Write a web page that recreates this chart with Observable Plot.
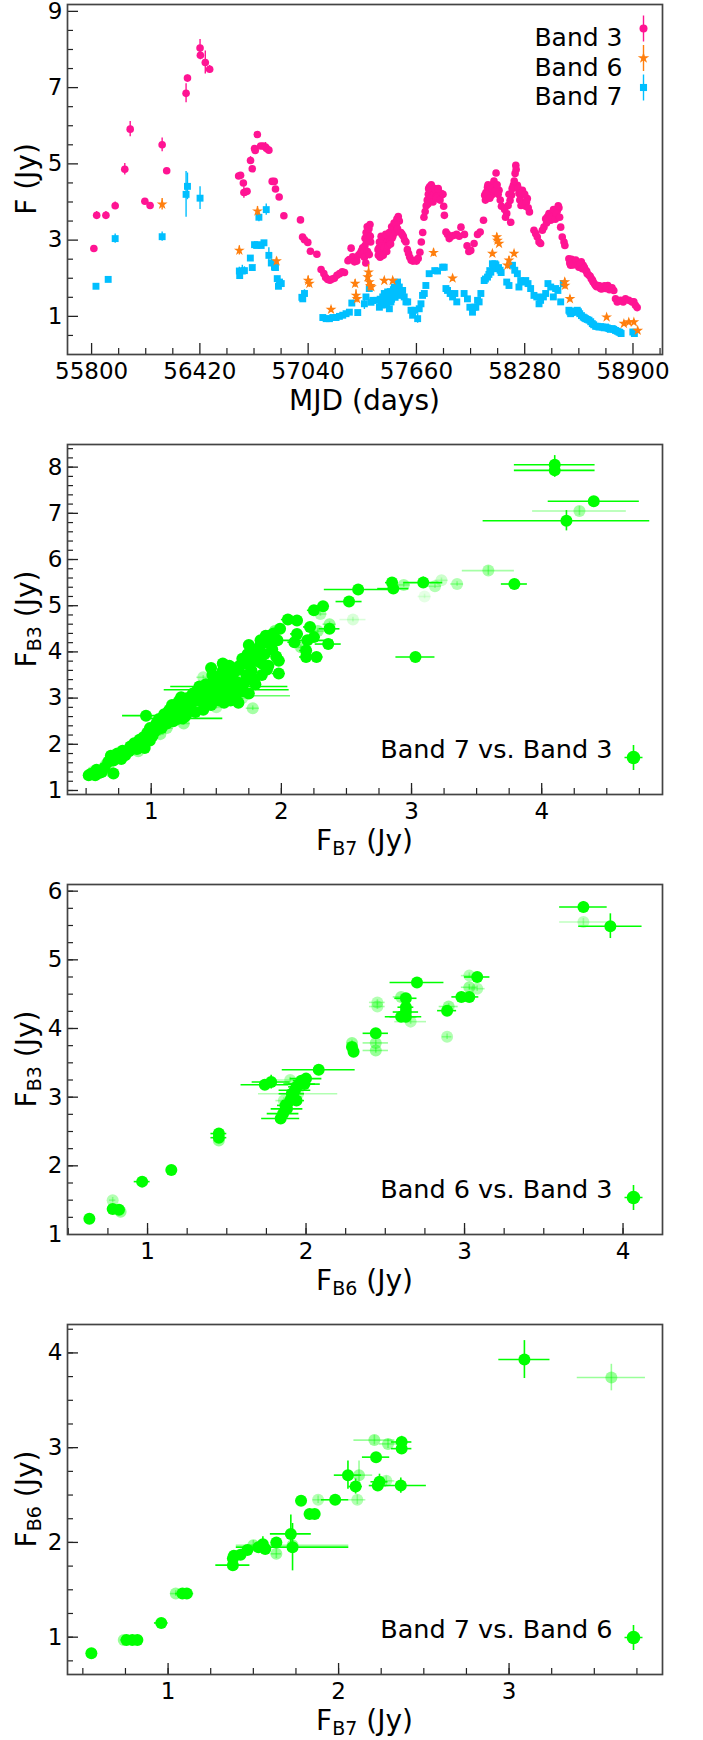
<!DOCTYPE html>
<html><head><meta charset="utf-8">
<script src="https://cdn.jsdelivr.net/npm/d3@7"></script>
<script src="https://cdn.jsdelivr.net/npm/@observablehq/plot@0.6"></script>
<style>
html,body{margin:0;padding:0;background:#fff;}
#chart svg{display:block;}
</style></head>
<body><div id="chart"></div>
<script>
// ---------- DATA ----------
// Light curves: [MJD, flux (Jy), error]
const band3 = [
[55813,2.78,0.06],[55829,3.65,0.1],[55882,3.65,0.1],[55935,3.90,0.1],[55990,4.86,0.15],[56021,5.91,0.2],[56105,4.02,0.06],[56135,3.91,0.08],[56204,5.50,0.18],[56230,4.82,0.06],[56341,6.85,0.25],[56349,7.25,0.08],[56421,8.04,0.22],[56423,7.85,0.12],[56451,7.66,0.3],[56476,7.48,0.1],
[56642,4.68,0.06],[56653,4.70,0.06],[56669,4.50,0.06],[56672,4.25,0.15],[56680,4.26,0.06],[56690,4.28,0.06],[56710,5.09,0.1],[56720,4.87,0.06],[56733,5.40,0.06],[56737,5.35,0.06],[56749,5.77,0.08],[56768,5.47,0.06],[56783,5.47,0.06],[56796,5.44,0.12],[56802,5.40,0.06],[56815,5.36,0.06],[56834,4.54,0.05],[56846,4.54,0.05],[56853,4.34,0.05],[56874,4.13,0.05],[56901,3.64,0.05],
[56996,3.53,0.05],[57008,3.08,0.05],[57019,3.01,0.05],[57038,2.94,0.05],[57053,2.71,0.05],[57090,2.63,0.05],[57114,2.23,0.05],[57130,2.12,0.05],[57140,2.02,0.05],[57152,1.97,0.05],[57165,1.95,0.05],[57178,1.98,0.05],[57190,2.00,0.05],[57205,2.08,0.05],[57220,2.12,0.05],[57235,2.17,0.05],[57248,2.15,0.05],[57268,2.46,0.05],[57276,2.49,0.05],[57286,2.79,0.05],[57295,2.56,0.05],[57305,2.43,0.05],[57318,2.45,0.05],[57328,2.60,0.05],[57337,2.65,0.08],[57345,2.72,0.05],[57352,2.80,0.05],[57360,2.70,0.05],[57366,3.05,0.1],[57372,3.20,0.12],[57378,3.35,0.08],[57383,3.18,0.05],[57388,3.30,0.05],[57394,3.41,0.05],[57398,2.95,0.05],
[57362,2.55,0.05],[57365,2.85,0.05],[57370,2.40,0.05],[57374,2.95,0.05],[57380,2.70,0.05],[57385,3.00,0.05],[57390,2.62,0.05],[57396,3.10,0.05],
[57440,2.75,0.05],[57446,2.80,0.05],[57451,2.70,0.05],[57456,2.90,0.05],[57462,2.60,0.05],[57468,2.75,0.05],[57474,3.05,0.05],[57480,2.85,0.05],[57488,2.95,0.05],[57495,3.10,0.05],[57502,2.90,0.05],[57508,3.00,0.05],[57514,3.15,0.05],[57520,3.05,0.05],[57528,3.25,0.05],[57534,3.30,0.05],[57540,3.45,0.05],[57548,3.55,0.05],[57556,3.62,0.05],[57562,3.50,0.05],
[57442,2.60,0.05],[57448,2.95,0.05],[57452,2.55,0.05],[57458,3.10,0.05],[57465,2.85,0.05],[57470,2.60,0.05],[57477,2.80,0.05],[57484,3.15,0.05],[57490,2.70,0.05],[57498,2.85,0.05],[57505,3.20,0.05],[57512,2.90,0.05],[57518,3.35,0.05],[57525,3.10,0.05],[57532,3.45,0.05],[57538,3.20,0.05],[57545,3.40,0.05],[57552,3.30,0.05],
[57571,3.20,0.05],[57578,3.15,0.05],[57585,3.10,0.05],[57592,3.00,0.05],[57600,2.95,0.05],[57608,2.75,0.05],[57615,2.65,0.05],[57622,2.55,0.05],[57630,2.47,0.05],[57640,2.45,0.05],[57650,2.47,0.05],[57660,2.45,0.05],[57670,2.52,0.05],[57680,2.68,0.05],[57688,2.95,0.05],[57696,3.20,0.05],[57703,3.60,0.05],[57710,3.75,0.05],[57716,3.90,0.05],[57722,4.05,0.05],[57728,4.20,0.05],[57735,4.40,0.05],[57742,4.30,0.05],[57750,4.15,0.05],[57760,4.25,0.05],[57772,4.30,0.05],[57782,4.20,0.05],[57792,4.25,0.05],[57802,4.18,0.05],[57812,4.20,0.1],[57816,3.89,0.05],[57820,3.65,0.05],
[57726,3.95,0.05],[57730,4.35,0.05],[57738,4.10,0.05],[57745,4.45,0.05],[57755,4.00,0.05],[57765,4.35,0.05],[57775,4.10,0.05],[57785,4.35,0.05],[57795,4.05,0.05],
[57829,3.21,0.05],[57838,3.15,0.05],[57848,3.04,0.05],[57860,3.10,0.05],[57872,3.12,0.05],[57890,3.15,0.05],[57905,3.10,0.05],[57915,3.34,0.05],[57935,3.15,0.05],[57950,2.85,0.05],[57960,2.70,0.05],
[57971,2.73,0.05],[57990,2.91,0.05],[58010,3.15,0.05],[58025,3.21,0.05],[58044,3.52,0.05],[58051,4.18,0.05],[58058,4.25,0.05],[58067,4.39,0.05],[58076,4.26,0.05],[58090,4.18,0.05],[58101,4.48,0.05],[58108,4.40,0.05],[58116,4.76,0.05],[58118,4.39,0.05],[58133,4.31,0.05],[58147,3.89,0.05],[58177,3.70,0.05],[58185,3.91,0.05],[58196,4.04,0.05],[58200,3.47,0.05],[58204,4.18,0.05],[58215,4.44,0.05],[58229,4.96,0.05],[58231,4.85,0.05],[58238,4.44,0.05],[58247,4.22,0.05],[58257,4.18,0.05],[58259,3.91,0.05],[58267,4.31,0.05],[58276,4.00,0.05],[58286,3.89,0.05],[58295,4.09,0.05],[58307,3.74,0.05],
[58055,4.05,0.05],[58062,4.20,0.05],[58070,4.45,0.05],[58080,4.10,0.05],[58085,4.40,0.05],[58095,4.35,0.05],[58104,4.55,0.05],[58112,4.30,0.05],[58122,4.45,0.05],[58128,4.20,0.05],[58140,4.05,0.05],[58165,3.80,0.05],[58170,3.60,0.05],[58190,4.20,0.05],[58208,4.35,0.05],[58220,4.55,0.05],[58225,4.75,0.05],[58243,4.35,0.05],[58252,4.05,0.05],[58262,4.25,0.05],[58270,3.95,0.05],[58280,4.20,0.05],[58290,4.00,0.05],[58300,3.85,0.05],
[58333,3.26,0.05],[58343,3.17,0.05],[58352,3.08,0.05],[58362,2.95,0.05],[58371,2.91,0.05],[58381,3.26,0.05],[58390,3.34,0.05],[58400,3.56,0.05],[58410,3.61,0.05],[58419,3.70,0.05],[58429,3.52,0.05],[58438,3.70,0.05],[58448,3.74,0.05],[58457,3.65,0.05],[58467,3.78,0.05],[58476,3.85,0.05],[58486,3.34,0.05],[58495,3.08,0.05],[58505,2.95,0.05],[58510,2.86,0.05],
[58405,3.45,0.05],[58415,3.55,0.05],[58425,3.65,0.05],[58435,3.60,0.05],[58445,3.80,0.05],[58455,3.55,0.05],[58462,3.70,0.05],[58472,3.90,0.05],[58480,3.60,0.05],
[58533,2.51,0.05],[58543,2.34,0.05],[58552,2.43,0.05],[58566,2.38,0.05],[58577,2.43,0.05],[58590,2.29,0.05],[58604,2.43,0.05],[58615,2.34,0.05],[58629,2.21,0.05],[58638,2.12,0.05],[58648,2.08,0.05],[58661,1.99,0.05],[58672,1.90,0.05],[58686,1.81,0.05],[58699,1.81,0.05],[58714,1.73,0.05],[58730,1.77,0.05],[58743,1.73,0.05],[58756,1.81,0.05],[58771,1.73,0.05],[58790,1.68,0.05],
[58538,2.40,0.05],[58548,2.50,0.05],[58558,2.35,0.05],[58572,2.48,0.05],[58585,2.35,0.05],[58598,2.38,0.05],[58610,2.25,0.05],[58622,2.28,0.05],[58635,2.18,0.05],[58655,2.05,0.05],[58668,1.95,0.05],[58680,1.85,0.05],[58692,1.78,0.05],[58708,1.80,0.05],[58720,1.72,0.05],[58737,1.80,0.05],[58750,1.75,0.05],[58765,1.70,0.05],[58780,1.75,0.05],
[58800,1.46,0.05],[58810,1.38,0.05],[58829,1.42,0.05],[58844,1.38,0.05],[58857,1.46,0.05],[58876,1.42,0.05],[58895,1.38,0.05],[58905,1.38,0.05],[58914,1.29,0.05],[58924,1.23,0.05]
];
const band6 = [
[56204,3.94,0.15],[56646,2.73,0.12],[56750,3.76,0.12],[56859,2.45,0.1],[57040,1.94,0.12],[57047,1.86,0.1],[57171,1.18,0.08],[57309,1.86,0.1],[57314,1.55,0.15],[57320,1.46,0.1],[57381,2.03,0.15],[57386,2.16,0.2],[57390,1.90,0.15],[57396,1.80,0.1],[57402,1.77,0.1],[57476,1.94,0.08],[57524,1.94,0.08],[57758,2.67,0.1],[57867,2.00,0.08],[58095,2.65,0.08],[58120,3.08,0.1],[58124,2.99,0.08],[58133,2.91,0.08],[58181,2.34,0.1],[58190,2.47,0.1],[58219,2.65,0.08],[58509,1.90,0.1],[58511,1.81,0.1],[58539,1.46,0.08],[58749,0.98,0.06],[58848,0.81,0.06],[58876,0.85,0.06],[58905,0.85,0.06],[58927,0.63,0.06]
];
const band7 = [
[55825,1.79,0.06],[55895,1.97,0.06],[55935,3.04,0.12],[56204,3.09,0.12],[56341,4.20,0.6],[56349,4.41,0.35],[56421,4.10,0.3],
[56646,2.19,0.1],[56648,2.07,0.06],[56663,2.19,0.15],[56675,2.20,0.1],[56709,2.53,0.06],[56720,2.28,0.06],[56733,2.88,0.08],[56745,2.86,0.06],[56756,2.88,0.06],[56758,3.60,0.12],[56771,2.86,0.06],[56787,2.93,0.06],[56800,3.80,0.15],[56815,2.60,0.2],[56829,2.40,0.1],[56847,2.29,0.06],[56853,2.28,0.06],[56863,1.99,0.06],[56870,1.79,0.06],[56876,1.90,0.06],[56886,1.86,0.06],
[57004,1.50,0.06],[57009,1.46,0.06],[57019,1.60,0.1],[57124,0.97,0.05],[57143,0.94,0.05],[57162,0.94,0.05],[57181,0.97,0.05],[57200,0.97,0.05],[57219,1.00,0.05],[57238,1.03,0.05],[57257,1.07,0.05],[57276,1.11,0.05],[57290,1.35,0.05],[57324,1.10,0.05],[57362,1.33,0.15],[57371,1.51,0.05],[57390,1.73,0.05],[57400,1.37,0.05],[57410,1.42,0.05],[57433,1.42,0.05],[57448,1.24,0.05],[57467,1.51,0.05],[57476,1.60,0.05],[57486,1.42,0.05],[57495,1.64,0.05],[57505,1.20,0.05],[57514,1.38,0.05],[57524,1.60,0.05],[57533,1.77,0.05],[57543,1.60,0.05],[57552,1.90,0.05],[57562,1.77,0.05],[57571,1.60,0.05],[57581,1.68,0.05],[57590,1.51,0.05],[57600,1.38,0.05],[57610,1.38,0.05],
[57452,1.45,0.05],[57458,1.30,0.05],[57472,1.40,0.05],[57480,1.55,0.05],[57490,1.30,0.05],[57500,1.50,0.05],[57510,1.65,0.05],[57518,1.45,0.05],[57528,1.70,0.05],[57538,1.50,0.05],[57548,1.75,0.05],[57557,1.65,0.05],[57566,1.55,0.05],
[57629,1.16,0.05],[57638,1.03,0.05],[57651,1.16,0.05],[57667,0.94,0.12],[57676,1.20,0.05],[57686,1.33,0.05],[57695,1.55,0.05],[57705,1.60,0.05],[57714,1.81,0.05],[57733,2.12,0.05],[57765,2.20,0.05],[57781,2.19,0.05],[57810,2.29,0.05],[57819,2.29,0.05],[57829,1.73,0.05],[57838,1.68,0.05],[57853,1.60,0.05],[57867,1.51,0.05],[57880,1.60,0.05],[57891,1.38,0.05],[57933,1.60,0.05],[57952,1.46,0.05],[57966,1.24,0.05],[57981,1.11,0.05],[57990,1.24,0.05],[58000,1.24,0.05],[58010,1.42,0.05],[58019,1.38,0.05],[58029,1.60,0.05],[58048,1.94,0.05],[58067,2.03,0.05],[58086,2.16,0.05],[58095,2.38,0.05],[58109,2.38,0.05],[58124,2.25,0.05],[58139,2.21,0.05],
[58055,1.98,0.05],[58075,2.10,0.05],[58080,2.20,0.05],[58100,2.30,0.05],[58115,2.35,0.05],[58130,2.28,0.05],[58145,2.15,0.05],
[58177,1.90,0.05],[58190,1.81,0.05],[58210,2.34,0.05],[58223,2.21,0.05],[58238,2.12,0.05],[58247,1.77,0.05],[58257,1.94,0.05],[58272,1.90,0.05],[58286,1.94,0.05],[58299,1.86,0.05],[58314,1.73,0.05],[58333,1.55,0.05],[58349,1.51,0.05],[58362,1.33,0.05],[58371,1.42,0.05],[58387,1.51,0.05],[58400,1.60,0.05],[58413,1.86,0.05],[58429,1.77,0.05],[58444,1.51,0.05],[58457,1.73,0.05],[58470,1.68,0.05],[58486,1.38,0.05],[58501,1.86,0.05],[58533,1.16,0.05],[58543,1.07,0.05],[58562,1.11,0.05],[58581,1.16,0.05],[58595,1.07,0.05],[58615,0.98,0.05],[58629,0.94,0.05],[58648,0.90,0.05],[58667,0.81,0.05],[58686,0.74,0.05],[58705,0.72,0.05],[58724,0.72,0.05],[58743,0.72,0.05],[58762,0.68,0.05],[58781,0.68,0.05],[58800,0.63,0.05],[58819,0.59,0.05],[58832,0.55,0.05],[58899,0.59,0.05],[58908,0.55,0.05],
[58538,1.12,0.05],[58550,1.10,0.05],[58570,1.14,0.05],[58588,1.12,0.05],[58605,1.02,0.05],[58622,0.96,0.05],[58638,0.92,0.05],[58658,0.86,0.05],[58675,0.78,0.05],[58695,0.74,0.05],[58715,0.73,0.05],[58735,0.70,0.05],[58752,0.70,0.05],[58770,0.66,0.05],[58790,0.66,0.05],[58810,0.61,0.05],[58825,0.58,0.05]
];
// Flux-flux pairs: [x flux, y flux, x error, y error, opacity]
const b7vsb3 = [
[4.10,8.05,0.31,0.2,1],[4.10,7.93,0.31,0.15,1],[4.40,7.26,0.35,0.1,1],[4.29,7.05,0.36,0.1,0.35],[4.19,6.84,0.64,0.22,1],
[3.59,5.76,0.2,0.1,0.35],[3.79,5.47,0.1,0.06,1],[3.35,5.47,0.05,0.05,0.3],[3.23,5.55,0.05,0.05,0.2],[3.18,5.42,0.05,0.05,0.3],[3.09,5.50,0.15,0.12,1],[2.94,5.45,0.05,0.05,0.35],[2.85,5.50,0.05,0.05,1],[2.86,5.37,0.12,0.05,1],[2.59,5.35,0.26,0.05,1],[2.52,5.09,0.1,0.05,1],[3.03,3.89,0.15,0.05,1],[2.55,4.70,0.1,0.05,0.15],[3.10,5.20,0.05,0.05,0.1],
[2.32,4.99,0.05,0.05,1],[2.25,4.90,0.05,0.05,1],[2.30,4.82,0.05,0.05,0.3],[2.37,4.60,0.05,0.05,0.4],[2.37,4.50,0.08,0.05,1],[2.05,4.70,0.05,0.05,1],[2.12,4.68,0.05,0.05,1],[2.22,4.54,0.05,0.05,1],[2.12,4.39,0.05,0.05,1],[2.25,4.32,0.05,0.05,1],[2.36,4.17,0.1,0.05,1],[2.10,4.21,0.05,0.05,1],[2.19,4.03,0.05,0.05,1],[2.27,3.89,0.05,0.05,1],[2.19,3.89,0.05,0.05,1],[2.15,4.10,0.05,0.05,0.4],[2.20,4.25,0.2,0.05,1],[2.28,4.45,0.05,0.05,0.4],[1.98,3.53,0.05,0.05,1],[1.98,3.81,0.05,0.05,1],
[0.54,1.36,0.02,0.04,1],[0.57,1.33,0.02,0.04,1],[0.60,1.38,0.02,0.04,1],[0.64,1.49,0.02,0.04,1],[0.68,1.42,0.02,0.04,0.4],[0.71,1.37,0.02,0.04,1],[0.73,1.72,0.02,0.04,1],[0.75,1.78,0.02,0.04,1],[0.77,1.68,0.02,0.04,1],[0.80,1.76,0.02,0.04,1],[0.83,1.85,0.02,0.04,1],[0.86,1.92,0.02,0.04,1],[0.88,1.98,0.02,0.04,1],[0.92,2.02,0.02,0.04,1],[0.95,1.92,0.02,0.04,1],[0.96,2.62,0.18,0.05,1],[0.99,2.08,0.02,0.04,1],[1.01,2.18,0.03,0.04,1],[1.03,2.28,0.03,0.04,1],[1.05,2.40,0.03,0.04,1],[1.07,2.22,0.03,0.04,0.4],[1.09,2.48,0.03,0.04,1],[1.11,2.58,0.03,0.04,1],[1.13,2.70,0.03,0.04,1],[1.15,2.62,0.03,0.04,1],[1.17,2.50,0.03,0.04,1],[1.19,2.78,0.03,0.04,1],[1.21,2.92,0.03,0.04,1],[1.23,3.02,0.03,0.04,1],[1.25,2.80,0.03,0.04,1],[1.27,2.65,0.03,0.04,1],[1.24,2.56,0.31,0.04,1],[1.31,2.90,0.03,0.04,1],[1.33,3.05,0.03,0.04,1],[1.35,3.15,0.03,0.04,1],[1.37,3.25,0.03,0.04,1],[1.39,2.95,0.03,0.04,1],[1.41,2.82,0.03,0.04,1],[1.43,3.08,0.03,0.04,1],[1.45,3.20,0.03,0.04,1],[1.46,3.65,0.03,0.04,1],[1.48,3.35,0.03,0.04,1],[1.50,3.10,0.03,0.04,1],[1.52,2.95,0.03,0.04,1],[1.54,3.30,0.03,0.04,1],[1.55,3.75,0.03,0.04,1],[1.57,3.45,0.03,0.04,1],[1.59,3.00,0.03,0.04,1],[1.60,3.55,0.03,0.04,1],[1.62,3.20,0.03,0.04,1],[1.63,3.65,0.03,0.04,1],[1.65,3.05,0.03,0.04,1],[1.66,3.35,0.03,0.04,1],[1.68,3.70,0.03,0.04,1],[1.70,3.85,0.03,0.04,1],[1.71,3.15,0.03,0.04,1],[1.73,3.50,0.03,0.04,1],[1.75,4.15,0.03,0.04,1],[1.76,3.80,0.03,0.04,1],[1.78,2.78,0.05,0.05,0.35],[1.79,3.40,0.03,0.04,1],[1.81,3.95,0.03,0.04,1],[1.83,4.10,0.03,0.04,1],[1.85,3.75,0.03,0.04,1],[1.87,4.20,0.03,0.04,1],[1.89,3.62,0.03,0.04,1],[1.91,4.35,0.03,0.04,1],[1.93,4.05,0.03,0.04,1],[1.95,4.45,0.03,0.04,0.5],[1.60,3.25,0.45,0.04,1],[1.58,3.18,0.48,0.04,1],[1.65,3.05,0.42,0.04,0.6],[1.50,2.80,0.05,0.04,0.3],[1.70,3.00,0.05,0.04,0.3],[1.40,3.45,0.05,0.04,0.3],[1.80,4.05,0.05,0.04,0.4],[1.25,2.45,0.05,0.04,0.4],[1.12,2.35,0.05,0.04,0.4],[0.90,1.85,0.05,0.04,0.4],[1.45,2.90,0.2,0.04,1],
[0.52,1.33,0.02,0.04,1],[0.55,1.40,0.02,0.04,0.4],[0.58,1.45,0.02,0.04,1],[0.62,1.40,0.02,0.04,1],[0.65,1.55,0.02,0.04,0.4],[0.67,1.62,0.02,0.04,1],[0.69,1.75,0.02,0.04,1],[0.71,1.65,0.02,0.04,1],[0.74,1.80,0.02,0.04,1],[0.76,1.74,0.02,0.04,1],[0.78,1.86,0.02,0.04,1],[0.81,1.82,0.02,0.04,1],[0.84,1.95,0.02,0.04,1],[0.87,2.02,0.02,0.04,1],[0.89,1.90,0.02,0.04,1],[0.91,2.10,0.02,0.04,1],[0.94,2.15,0.02,0.04,1],[0.97,2.25,0.02,0.04,1],[0.99,2.35,0.02,0.04,1],[1.02,2.30,0.03,0.04,1],[1.04,2.45,0.03,0.04,1],[1.06,2.55,0.03,0.04,1],[1.08,2.35,0.03,0.04,1],[1.10,2.65,0.03,0.04,1],[1.12,2.45,0.03,0.04,1],[1.14,2.75,0.03,0.04,1],[1.16,2.85,0.03,0.04,1],[1.18,2.68,0.03,0.04,1],[1.20,2.55,0.03,0.04,1],[1.22,2.95,0.03,0.04,1],[1.24,2.75,0.03,0.04,1],[1.26,2.60,0.03,0.04,1],[1.28,3.00,0.03,0.04,1],[1.30,2.80,0.03,0.04,1],[1.32,3.10,0.03,0.04,1],[1.34,2.70,0.03,0.04,1],[1.36,2.95,0.03,0.04,1],[1.38,3.15,0.03,0.04,1],[1.40,2.75,0.03,0.04,1],[1.42,3.30,0.03,0.04,1],[1.44,3.00,0.03,0.04,1],[1.46,2.85,0.03,0.04,1],[1.47,3.50,0.03,0.04,1],[1.49,3.20,0.03,0.04,1],[1.51,3.45,0.03,0.04,1],[1.53,3.05,0.03,0.04,1],[1.55,3.60,0.03,0.04,1],[1.56,2.90,0.03,0.04,1],[1.58,3.25,0.03,0.04,1],[1.60,3.70,0.03,0.04,1],[1.61,2.95,0.03,0.04,1],[1.63,3.40,0.03,0.04,1],[1.64,3.15,0.03,0.04,1],[1.66,3.60,0.03,0.04,1],[1.67,2.90,0.03,0.04,1],[1.69,3.25,0.03,0.04,1],[1.71,3.75,0.03,0.04,1],[1.72,3.35,0.03,0.04,1],[1.74,3.95,0.03,0.04,1],[1.75,3.10,0.03,0.04,1],[1.77,3.60,0.03,0.04,1],[1.78,4.00,0.03,0.04,1],[1.80,3.30,0.03,0.04,1],[1.82,3.80,0.03,0.04,1],[1.84,4.25,0.03,0.04,1],[1.85,3.50,0.03,0.04,1],[1.87,3.95,0.03,0.04,1],[1.88,4.35,0.03,0.04,1],[1.90,3.70,0.03,0.04,1],[1.92,4.15,0.03,0.04,1],[1.94,4.40,0.03,0.04,1],[1.96,3.90,0.03,0.04,1],[1.97,4.25,0.03,0.04,1],[1.99,4.50,0.03,0.04,1]
];
const b6vsb3 = [
[0.633,1.23,0.02,0.04,1],[0.78,1.37,0.02,0.04,1],[0.82,1.36,0.02,0.04,1],[0.83,1.33,0.02,0.04,0.4],[0.78,1.50,0.02,0.04,0.3],[0.966,1.77,0.05,0.04,1],[1.15,1.94,0.02,0.04,1],[1.45,2.47,0.05,0.04,1],[1.45,2.41,0.05,0.04,1],[1.45,2.37,0.03,0.04,0.4],[1.84,2.69,0.12,0.04,1],[1.855,2.76,0.1,0.04,1],[1.88,2.83,0.1,0.04,1],[1.87,2.88,0.05,0.04,1],[1.90,2.95,0.05,0.04,1],[1.91,3.05,0.08,0.04,1],[1.93,3.10,0.1,0.04,1],[1.94,3.15,0.05,0.04,1],[1.96,3.19,0.1,0.04,1],[1.97,3.24,0.05,0.04,1],[2.00,3.27,0.1,0.04,1],[1.99,3.19,0.1,0.04,1],[1.94,2.95,0.05,0.04,1],[1.86,2.95,0.05,0.04,0.3],[1.90,3.25,0.12,0.04,0.3],[1.95,3.05,0.25,0.04,0.3],[1.74,3.18,0.15,0.04,1],[1.78,3.22,0.12,0.1,1],[2.08,3.40,0.23,0.04,1],[2.29,3.73,0.03,0.04,1],[2.30,3.66,0.03,0.04,1],[2.29,3.79,0.03,0.04,0.4],[2.44,3.93,0.08,0.04,1],[2.44,3.79,0.08,0.04,0.4],[2.44,3.68,0.08,0.04,0.4],[2.45,4.38,0.05,0.04,0.3],[2.45,4.32,0.05,0.04,0.3],[2.60,4.17,0.1,0.04,1],[2.63,4.24,0.08,0.04,1],[2.63,4.31,0.05,0.04,1],[2.63,4.44,0.07,0.04,1],[2.60,4.46,0.05,0.04,0.4],[2.70,4.67,0.17,0.04,1],[2.63,4.17,0.1,0.04,1],[2.66,4.10,0.1,0.04,0.3],[2.89,4.26,0.06,0.04,1],[2.90,4.32,0.06,0.04,0.4],[2.89,3.88,0.03,0.04,0.3],[2.98,4.46,0.06,0.04,1],[3.03,4.46,0.06,0.04,1],[3.03,4.60,0.05,0.04,0.4],[3.08,4.75,0.08,0.04,1],[3.03,4.77,0.05,0.04,0.3],[3.08,4.58,0.05,0.04,0.3],[3.75,5.77,0.15,0.08,1],[3.75,5.55,0.15,0.05,0.25],[3.92,5.49,0.2,0.18,1]
];
const b7vsb6 = [
[0.55,0.83,0.02,0.03,1],[0.756,0.97,0.03,0.03,1],[0.79,0.97,0.03,0.03,1],[0.82,0.97,0.03,0.03,1],[0.74,0.97,0.02,0.03,0.4],[0.96,1.15,0.04,0.03,1],[1.045,1.46,0.03,0.03,0.4],[1.084,1.46,0.04,0.03,1],[1.11,1.46,0.04,0.03,1],[1.38,1.76,0.1,0.04,1],[1.386,1.86,0.03,0.04,1],[1.38,1.83,0.03,0.04,1],[1.425,1.87,0.03,0.04,1],[1.465,1.92,0.03,0.04,1],[1.50,1.97,0.03,0.05,0.4],[1.53,1.95,0.03,0.05,1],[1.556,1.98,0.03,0.08,1],[1.57,1.93,0.03,0.05,1],[1.635,2.0,0.03,0.05,1],[1.635,1.88,0.03,0.05,0.4],[1.72,2.09,0.12,0.2,1],[1.73,1.95,0.33,0.25,1],[1.73,1.97,0.33,0.05,0.4],[1.78,2.44,0.03,0.05,1],[1.83,2.30,0.03,0.04,1],[1.86,2.30,0.03,0.04,1],[1.88,2.45,0.03,0.04,0.3],[1.98,2.45,0.08,0.04,1],[2.055,2.71,0.08,0.15,1],[2.12,2.71,0.08,0.15,0.4],[2.10,2.59,0.04,0.08,1],[2.11,2.45,0.05,0.05,0.3],[2.21,3.08,0.12,0.05,0.4],[2.22,2.90,0.08,0.04,1],[2.24,2.64,0.05,0.08,1],[2.23,2.60,0.05,0.04,1],[2.29,3.04,0.05,0.05,0.4],[2.37,3.06,0.06,0.06,1],[2.37,2.99,0.06,0.06,1],[2.365,2.60,0.15,0.08,1],[2.28,2.65,0.05,0.05,0.3],[3.09,3.93,0.15,0.2,1],[3.6,3.74,0.2,0.14,0.4]
];
// Tick values
const mjdMajor = [55800,56420,57040,57660,58280,58900];
const mjdMinor = [55955,56110,56265,56575,56730,56885,57195,57350,57505,57815,57970,58125,58435,58590,58745,59055];
const fluxMajor1 = [1,3,5,7,9];
const fluxMinor1 = [0.5,1.5,2,2.5,3.5,4,4.5,5.5,6,6.5,7.5,8,8.5];
const legendLabels = ["Band 3","Band 6","Band 7"];
const scatterLabels = ["Band 7 vs. Band 3","Band 6 vs. Band 3","Band 7 vs. Band 6"];

// ---------- STYLE ----------
const C3 = "#ff1493", C6 = "#ff7f0e", C7 = "#00bfff", CG = "#00ff00";
const W = 703, ML = 67, MR = 41;
const FONT = "DejaVu Sans";
const vbar = {draw(ctx, size){ const h = Math.sqrt(size/Math.PI); ctx.moveTo(0,-h); ctx.lineTo(0,h); }};
const cross = {draw(ctx, size){ const h = Math.sqrt(size/Math.PI), w = 0.72 * h; ctx.moveTo(0,-h); ctx.lineTo(0,h); ctx.moveTo(-w,0); ctx.lineTo(w,0); }};
const range = (a,b,s) => { const out=[]; for (let i=0; a+i*s<=b+1e-9; i++) out.push(+(a+i*s).toFixed(4)); return out; };

function panel({height, mt, mb, xDomain, yDomain, xMajor, xMinor, yMajor, yMinor, marks}) {
  const fw = W - ML - MR, fh = height - mt - mb;
  const inX = v => v > xDomain[0] && v < xDomain[1];
  const inY = v => v > yDomain[0] && v < yDomain[1];
  return Plot.plot({
    width: W, height, marginLeft: ML, marginRight: MR, marginTop: mt, marginBottom: mb,
    x: {domain: xDomain}, y: {domain: yDomain},
    style: {fontFamily: FONT, background: "white", color: "black", overflow: "visible"},
    marks: [
      ...marks,
      Plot.ruleX(xMinor.filter(inX), {x: d => d, insetTop: fh - 6, stroke: "#222", strokeWidth: 1.2}),
      Plot.ruleX(xMajor.filter(inX), {x: d => d, insetTop: fh - 11, stroke: "#222", strokeWidth: 1.3}),
      Plot.ruleY(yMinor.filter(inY), {y: d => d, insetRight: fw - 6, stroke: "#222", strokeWidth: 1.2}),
      Plot.ruleY(yMajor.filter(inY), {y: d => d, insetRight: fw - 11, stroke: "#222", strokeWidth: 1.3}),
      Plot.axisX({ticks: xMajor, tickSize: 0, tickPadding: 8, fontSize: 23, tickFormat: d => String(d), label: null}),
      Plot.axisY({ticks: yMajor, tickSize: 0, tickPadding: 5, fontSize: 23, tickFormat: d => String(d), label: null}),
      Plot.frame({stroke: "#444", strokeWidth: 1.7})
    ]
  });
}

function addLabel(svg, x, y, rotate, main, sub, rest) {
  const t = d3.select(svg).append("text")
    .attr("font-family", FONT).attr("font-size", 28).attr("fill", "black")
    .attr("text-anchor", "middle")
    .attr("transform", `translate(${x},${y})` + (rotate ? " rotate(-90)" : ""));
  t.append("tspan").text(main);
  if (sub) {
    t.append("tspan").attr("font-size", 19).attr("dy", 5).text(sub);
    t.append("tspan").attr("dy", -5).text(rest);
  }
  return t;
}

function errMarks(data, color) {
  return [
    Plot.ruleY(data, {y: d => d[1], x1: d => d[0] - d[2], x2: d => d[0] + d[2], stroke: color, strokeWidth: 1.6, strokeOpacity: d => d[4]}),
    Plot.ruleX(data, {x: d => d[0], y1: d => d[1] - d[3], y2: d => d[1] + d[3], stroke: color, strokeWidth: 1.6, strokeOpacity: d => d[4]}),
    Plot.dot(data, {x: d => d[0], y: d => d[1], r: 6, fill: color, fillOpacity: d => d[4], stroke: "none"})
  ];
}

function scatterLegend(label) {
  return [
    Plot.text([label], {frameAnchor: "bottom-right", dx: -50, dy: -37, textAnchor: "end", fontSize: 25.5, fill: "black", fontFamily: FONT}),
    Plot.dot([0], {frameAnchor: "bottom-right", dx: -29, dy: -37, symbol: cross, r: 12.5, stroke: CG, strokeWidth: 1.6, fill: "none"}),
    Plot.dot([0], {frameAnchor: "bottom-right", dx: -29, dy: -37, r: 6.8, fill: CG, stroke: "none"})
  ];
}

const root = document.getElementById("chart");

// ---------- PANEL 1: light curves ----------
const lc = (data, color, symbol, r) => [
  Plot.ruleX(data, {x: d => d[0], y1: d => d[1] - d[2], y2: d => d[1] + d[2], stroke: color, strokeWidth: 1.4}),
  Plot.dot(data, {x: d => d[0], y: d => d[1], symbol, r, fill: color, stroke: "none"})
];
const legendSpec = [[C3, "circle", 4.0], [C6, "star", 3.6], [C7, "square", 4.0]];
const legend1 = legendLabels.flatMap((lab, i) => [
  Plot.text([lab], {frameAnchor: "top-right", dx: -40, dy: 24 + 29.5 * i, textAnchor: "end", fontSize: 25, fill: "black", fontFamily: FONT}),
  Plot.dot([0], {frameAnchor: "top-right", dx: -19, dy: 24 + 29.5 * i, symbol: vbar, r: 13, stroke: legendSpec[i][0], strokeWidth: 1.4, fill: "none"}),
  Plot.dot([0], {frameAnchor: "top-right", dx: -19, dy: 24 + 29.5 * i, symbol: legendSpec[i][1], r: legendSpec[i][2], fill: legendSpec[i][0], stroke: "none"})
]);
const p1 = panel({
  height: 420, mt: 4, mb: 66,
  xDomain: [55662, 59069], yDomain: [0, 9.18],
  xMajor: mjdMajor, xMinor: mjdMinor, yMajor: fluxMajor1, yMinor: fluxMinor1,
  marks: [...lc(band3, C3, "circle", 3.8), ...lc(band7, C7, "square", 3.9), ...lc(band6, C6, "star", 3.4), ...legend1]
});
addLabel(p1, 364.5, 410, false, "MJD (days)");
addLabel(p1, 36, 179, true, "F (Jy)");
root.appendChild(p1);

// ---------- PANEL 2 ----------
const p2 = panel({
  height: 440, mt: 24, mb: 66,
  xDomain: [0.357, 4.928], yDomain: [0.913, 8.49],
  xMajor: [1,2,3,4], xMinor: range(0.5, 4.75, 0.25), yMajor: [1,2,3,4,5,6,7,8], yMinor: range(1, 8.4, 0.2),
  marks: [...errMarks(b7vsb3, CG), ...scatterLegend(scatterLabels[0])]
});
addLabel(p2, 364.5, 430, false, "F", "B7", " (Jy)");
addLabel(p2, 36, 199, true, "F", "B3", " (Jy)");
root.appendChild(p2);

// ---------- PANEL 3 ----------
const p3 = panel({
  height: 440, mt: 24, mb: 66,
  xDomain: [0.495, 4.249], yDomain: [1.0, 6.097],
  xMajor: [1,2,3,4], xMinor: range(0.5, 4.25, 0.25), yMajor: [1,2,3,4,5,6], yMinor: range(1, 6, 0.25),
  marks: [...errMarks(b6vsb3, CG), ...scatterLegend(scatterLabels[1])]
});
addLabel(p3, 364.5, 430, false, "F", "B6", " (Jy)");
addLabel(p3, 36, 199, true, "F", "B3", " (Jy)");
root.appendChild(p3);

// ---------- PANEL 4 ----------
const p4 = panel({
  height: 440, mt: 24, mb: 66,
  xDomain: [0.41, 3.9], yDomain: [0.606, 4.3],
  xMajor: [1,2,3], xMinor: range(0.5, 3.75, 0.25), yMajor: [1,2,3,4], yMinor: range(0.75, 4.25, 0.25),
  marks: [...errMarks(b7vsb6, CG), ...scatterLegend(scatterLabels[2])]
});
addLabel(p4, 364.5, 430, false, "F", "B7", " (Jy)");
addLabel(p4, 36, 199, true, "F", "B6", " (Jy)");
root.appendChild(p4);
</script>
</body></html>
